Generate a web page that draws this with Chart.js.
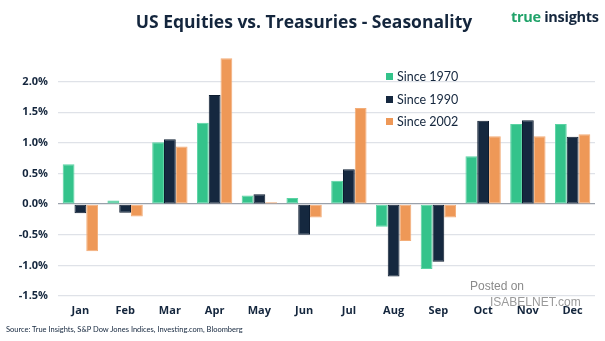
<!DOCTYPE html>
<html>
<head>
<meta charset="utf-8">
<script src="https://cdn.jsdelivr.net/npm/chart.js@4"></script>
<style>
  html, body { margin: 0; padding: 0; background: #fff; }
  #wrap { position: relative; width: 605px; height: 341px; overflow: hidden; font-family: Lato, "Open Sans", sans-serif; color: #14263d; }
  #chart { position: absolute; left: 0; top: 0; }
  #title { position: absolute; left: 0; width: 608px; top: 9px; text-align: center; font-family: "Open Sans", sans-serif; font-weight: 700; font-size: 17.5px; }
  #logo { position: absolute; left: 511px; top: 7px; font-family: "Open Sans", sans-serif; font-weight: 700; font-size: 14.5px; letter-spacing: -0.3px; }
  #logo .g { color: #21a36a; }
  #legend { position: absolute; left: 386px; top: 69px; font-size: 12.5px; }
  #legend div { height: 22.5px; line-height: 16px; white-space: nowrap; }
  #legend span.box { display: inline-block; width: 7px; height: 7px; margin-right: 4px; vertical-align: 1px; }
  #source { position: absolute; left: 6px; top: 325px; font-size: 7.5px; }
  #mark1 { position: absolute; left: 470px; top: 279px; font-family: "Liberation Sans", sans-serif; font-size: 12px; color: #8a8a8a; }
  #mark2 { position: absolute; left: 490px; top: 295px; font-family: "Liberation Sans", sans-serif; font-size: 12px; color: #9a9a9a; }
</style>
</head>
<body>
<div id="wrap">
  <canvas id="chart" width="605" height="341"></canvas>
  <div id="title">US Equities vs. Treasuries - Seasonality</div>
  <div id="logo"><span class="g">true</span> insights</div>
  <div id="legend"></div>
  <div id="mark1">Posted on</div>
  <div id="mark2">ISABELNET.com</div>
  <div id="source">Source: True Insights, S&amp;P Dow Jones Indices, Investing.com, Bloomberg</div>
</div>
<script>
// -- DATA -- //
const months = ["Jan", "Feb", "Mar", "Apr", "May", "Jun", "Jul", "Aug", "Sep", "Oct", "Nov", "Dec"];
const series_labels = ["Since 1970", "Since 1990", "Since 2002"];
const since_1970 = [0.65, 0.06, 1.01, 1.33, 0.14, 0.10, 0.38, -0.37, -1.06, 0.78, 1.31, 1.31];
const since_1990 = [-0.15, -0.14, 1.06, 1.78, 0.16, -0.50, 0.57, -1.18, -0.94, 1.36, 1.37, 1.10];
const since_2002 = [-0.77, -0.20, 0.94, 2.38, 0.03, -0.22, 1.57, -0.60, -0.22, 1.11, 1.11, 1.14];
const y_ticks = [-1.5, -1.0, -0.5, 0.0, 0.5, 1.0, 1.5, 2.0];

const fill_colors = ["#34c38b", "#15283f", "#ee9857"];
const edge_colors = ["#5ad3a3", "#0e1d30", "#f3ad78"];

// -- CHART -- //
const series = [since_1970, since_1990, since_2002];
const datasets = series.map((vals, i) => ({
    label: series_labels[i],
    data: vals,
    backgroundColor: fill_colors[i],
    borderColor: edge_colors[i],
    borderWidth: 1,
    borderSkipped: false,
    barPercentage: 1.0,
    categoryPercentage: 0.79
}));

const tick_font = { family: "Open Sans", weight: "bold", size: 11 };

const ctx = document.getElementById("chart").getContext("2d");
const chart = new Chart(ctx, {
    type: "bar",
    data: { labels: months, datasets: datasets },
    options: {
        responsive: false,
        animation: false,
        layout: { padding: { left: 0, right: 10, top: 51, bottom: 20 } },
        plugins: { legend: { display: false }, tooltip: { enabled: false } },
        scales: {
            x: {
                grid: { display: false },
                border: { display: false },
                ticks: { color: "#14263d", font: tick_font, padding: 0 },
                afterFit: function (s) { s.height = 25; }
            },
            y: {
                min: -1.5,
                max: 2.5,
                // 2.5 only reserves headroom for the tallest bar; no line or label there
                afterBuildTicks: function (s) { s.ticks = y_ticks.concat([2.5]).map(v => ({ value: v })); },
                afterFit: function (s) { s.width = 58; },
                border: { display: false },
                grid: {
                    drawTicks: false,
                    lineWidth: 1.3,
                    color: c => c.tick.value === 2.5 ? "rgba(0,0,0,0)" : (c.tick.value === 0 ? "#9aa1ab" : "#dfe2e8")
                },
                ticks: {
                    color: "#14263d",
                    padding: 10,
                    font: tick_font,
                    callback: v => v === 2.5 ? "" : v.toFixed(1) + "%"
                }
            }
        }
    }
});

// -- LEGEND -- //
const legend = document.getElementById("legend");
series_labels.forEach((lbl, i) => {
    const row = document.createElement("div");
    const box = document.createElement("span");
    box.className = "box";
    box.style.background = fill_colors[i];
    row.appendChild(box);
    row.appendChild(document.createTextNode(lbl));
    legend.appendChild(row);
});
</script>
</body>
</html>
